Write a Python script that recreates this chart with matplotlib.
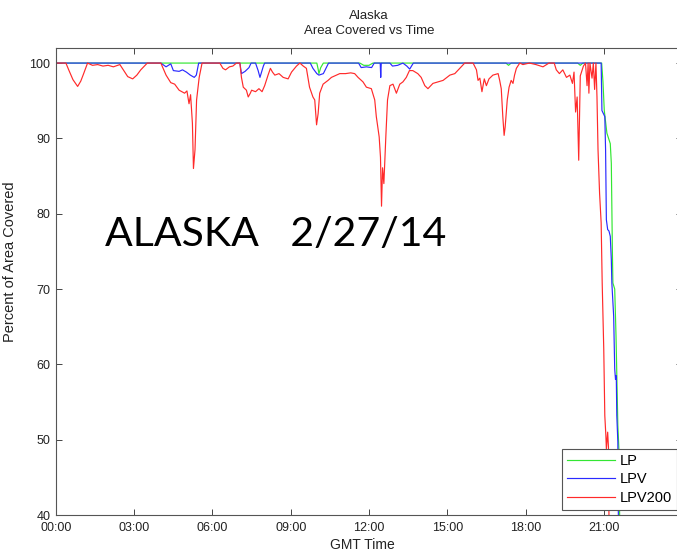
import matplotlib.pyplot as plt

# GMT hour of day / percent of area covered
lp_t = [0.0, 10.0, 10.05, 10.08, 10.15, 10.25, 11.65, 11.8, 12.0, 12.15,
        17.25, 17.35, 17.45, 20.0, 20.1, 20.2, 20.92, 20.97, 21.02, 21.12,
        21.25, 21.29, 21.33, 21.35, 21.42, 21.47, 21.54, 21.58, 21.64]
lp_v = [100, 100, 99.2, 98.6, 99.4, 100, 100, 99.7, 99.7, 100,
        100, 99.7, 100, 100, 99.7, 100, 100, 97.5, 93.7, 90.7,
        89.3, 86.7, 75.2, 70.8, 70.0, 63.8, 51.9, 48.8, 30]

lpv_t = [0.0, 4.02, 4.22, 4.4, 4.5, 4.72, 4.85, 5.0, 5.15, 5.3, 5.38, 5.47,
         7.05, 7.11, 7.25, 7.4, 7.48, 7.65, 7.75, 7.82, 7.95, 8.0,
         9.75, 9.85, 10.0, 10.08, 10.25, 10.45, 11.6, 11.7, 11.9, 12.1, 12.2,
         12.43, 12.45, 12.47, 12.8, 12.9, 13.1, 13.3, 13.45, 13.56, 13.7,
         20.9, 20.93, 21.04, 21.07, 21.1, 21.15, 21.2, 21.25, 21.29, 21.31,
         21.38, 21.42, 21.45, 21.48, 21.5, 21.54, 21.58]
lpv_v = [100, 100, 99.5, 99.9, 99.0, 98.9, 99.1, 98.8, 98.4, 98.1, 98.4, 100,
         100, 98.6, 98.9, 99.4, 100, 100, 99.0, 98.1, 99.6, 100,
         100, 99.3, 98.6, 98.4, 98.6, 100, 100, 99.4, 99.5, 99.4, 100,
         100, 98.1, 100, 100, 99.6, 99.7, 100, 99.6, 99.2, 100,
         100, 93.7, 92.9, 88.5, 79.2, 77.9, 77.7, 77.0, 73.9, 70.8,
         66.4, 59.4, 58.0, 58.5, 53.2, 49.7, 30]

lpv200_t = [0.0, 0.38, 0.5, 0.65, 0.83, 0.95, 1.05, 1.21, 1.4, 1.6, 1.8, 2.0,
            2.2, 2.45, 2.6, 2.75, 2.94, 3.1, 3.25, 3.5, 4.02, 4.22, 4.4, 4.55,
            4.72, 4.93, 5.02, 5.1, 5.16, 5.23, 5.27, 5.33, 5.39, 5.49, 5.6,
            6.28, 6.4, 6.5, 6.65, 6.78, 6.92, 7.05, 7.11, 7.18, 7.3, 7.37,
            7.45, 7.5, 7.65, 7.78, 7.9, 8.0, 8.13, 8.22, 8.3, 8.39, 8.55,
            8.71, 8.9, 9.03, 9.22, 9.35, 9.48, 9.6, 9.72, 9.85, 9.92, 9.99,
            10.05, 10.11, 10.24, 10.43, 10.56, 10.75, 10.88, 11.1, 11.3,
            11.45, 11.58, 11.77, 11.9, 12.09, 12.22, 12.28, 12.39, 12.44,
            12.48, 12.52, 12.57, 12.65, 12.71, 12.8, 12.92, 13.05, 13.18,
            13.3, 13.43, 13.55, 13.68, 13.87, 14.0, 14.14, 14.26, 14.45,
            14.64, 14.84, 15.1, 15.29, 15.48, 15.67, 15.99, 16.12, 16.18,
            16.25, 16.33, 16.42, 16.5, 16.6, 16.75, 16.95, 17.01, 17.07,
            17.13, 17.18, 17.22, 17.3, 17.37, 17.45, 17.52, 17.58, 17.65,
            17.78, 17.9, 18.15, 18.4, 18.67, 18.9, 19.1, 19.18, 19.3, 19.43,
            19.57, 19.7, 19.8, 19.86, 19.92, 19.98, 20.04, 20.1, 20.22, 20.3,
            20.36, 20.4, 20.43, 20.47, 20.55, 20.6, 20.65, 20.7, 20.74, 20.78,
            20.84, 20.9, 20.94, 21.0, 21.04, 21.08, 21.1, 21.15, 21.18, 21.22]
lpv200_v = [100, 100, 99.0, 97.8, 96.9, 97.6, 98.5, 100, 99.7, 99.8, 99.6, 99.7,
            99.5, 99.8, 99.0, 98.2, 97.9, 98.4, 99.1, 100, 100, 98.4, 97.4, 97.2,
            96.4, 96.0, 96.3, 94.6, 95.8, 92.0, 86.0, 88.5, 95.1, 98.1, 100,
            100, 99.3, 99.1, 99.5, 99.6, 100, 100, 98.1, 96.8, 96.4, 95.5,
            96.0, 96.4, 96.2, 96.6, 96.2, 97.0, 98.4, 99.3, 98.8, 98.4, 98.6,
            98.1, 97.9, 98.8, 99.6, 100, 99.6, 99.3, 96.8, 95.5, 95.1, 91.8,
            93.3, 96.0, 97.2, 97.7, 98.1, 98.4, 98.6, 98.6, 98.7,
            98.6, 98.1, 97.5, 96.8, 96.6, 95.1, 92.9, 90.2, 87.5,
            81.0, 86.1, 84.0, 90.6, 95.1, 97.0, 97.2, 96.0, 97.2,
            97.5, 98.1, 99.0, 99.0, 98.6, 98.1, 97.0, 96.6, 97.3,
            97.5, 97.7, 98.4, 98.6, 99.3, 100, 100, 99.1, 97.7,
            98.0, 96.2, 97.9, 97.0, 97.9, 98.4, 98.6, 97.7, 96.6,
            92.9, 90.4, 91.5, 95.1, 96.8, 97.7, 97.3, 98.4, 99.3,
            100, 99.8, 100, 99.8, 99.5, 100, 100, 99.1, 98.6, 99.1,
            98.1, 98.4, 97.3, 98.8, 93.5, 95.5, 87.1, 98.3, 99.6, 100,
            97.0, 100, 96.0, 100, 98.0, 100, 96.5, 100, 95.5, 88.5,
            82.7, 78.8, 70.8, 62.0, 53.2, 50.6, 48.8, 51.0, 49.0, 30]

tick_hours = [0, 3, 6, 9, 12, 15, 18, 21]
tick_labels = ["00:00", "03:00", "06:00", "09:00", "12:00", "15:00", "18:00", "21:00"]
y_ticks = [40, 50, 60, 70, 80, 90, 100]

fig = plt.figure(figsize=(6.77, 5.53), dpi=100)
ax = fig.add_axes([0.0827, 0.0687, 0.9247, 0.8445])

ax.plot(lp_t, lp_v, color="#33e633", lw=0.85, label="LP")
ax.plot(lpv_t, lpv_v, color="#2a2aff", lw=0.85, label="LPV")
ax.plot(lpv200_t, lpv200_v, color="#ff2a2a", lw=0.85, label="LPV200")

ax.set_xlim(0, 24)
ax.set_ylim(40, 102)
ax.set_xticks(tick_hours)
ax.set_xticklabels(tick_labels)
ax.set_yticks(y_ticks)

tick_font = "Liberation Sans"
for lbl in ax.get_xticklabels() + ax.get_yticklabels():
    lbl.set_fontfamily(tick_font)
    lbl.set_fontsize(9)
    lbl.set_color("#222222")

ax.tick_params(direction="in", top=True, right=True, length=4, width=0.7,
               color="#444444")
ax.tick_params(axis="x", pad=5)
ax.tick_params(axis="y", pad=4)
for sp in ax.spines.values():
    sp.set_color("#555555")
    sp.set_linewidth(0.8)

ax.set_title("Alaska\nArea Covered vs Time", fontsize=9.5, family=tick_font,
             color="#222222", pad=10, linespacing=1.3)
ax.set_xlabel("GMT Time", fontsize=10, family=tick_font, color="#222222")
ax.set_ylabel("Percent of Area Covered", fontsize=10.5, family=tick_font,
              color="#222222")
ax.xaxis.set_label_coords(0.489, -0.05)
ax.yaxis.set_label_coords(-0.062, 0.542)

leg = ax.legend(loc="lower right", bbox_to_anchor=(1.0, 0.078),
                bbox_transform=fig.transFigure, borderaxespad=0,
                fancybox=False, framealpha=1, edgecolor="#555555",
                borderpad=0.35, handlelength=3.3, labelspacing=0.3,
                handletextpad=0.3, prop={"family": tick_font, "size": 10.5})
leg.get_frame().set_linewidth(0.8)

fig.text(0.155, 0.576, "ALASKA   2/27/14", fontsize=29.5, family="Lato",
         color="black", ha="left", va="center")

fig.savefig("out.png", dpi=100)
